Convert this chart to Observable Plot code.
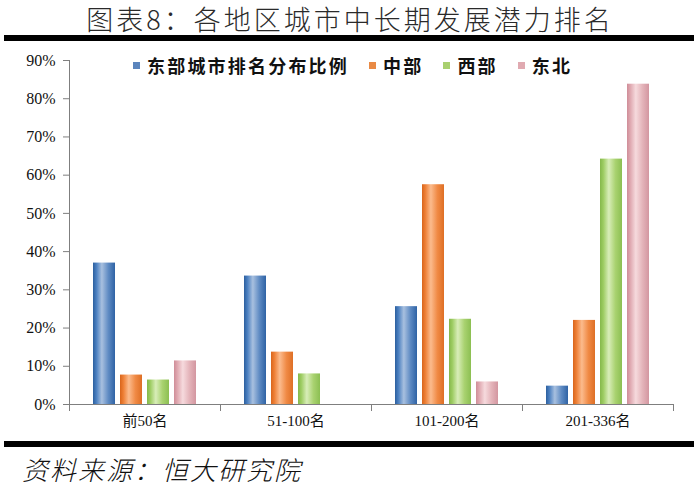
<!DOCTYPE html>
<html><head><meta charset="utf-8">
<script src="https://cdn.jsdelivr.net/npm/d3@7"></script>
<script src="https://cdn.jsdelivr.net/npm/@observablehq/plot@0.6"></script>
<style>
body{margin:0;background:#fff;}
#wrap{position:relative;width:700px;height:486px;overflow:hidden;background:#fff;}
#title{position:absolute;left:0;top:2px;width:700px;height:33px;line-height:33px;text-align:center;
  font-family:"Noto Sans CJK SC","Noto Sans",sans-serif;font-weight:300;font-size:27px;letter-spacing:3px;color:#2a2a2a;}
.rule{position:absolute;left:4px;width:690px;height:6px;background:#000;}
#chart{position:absolute;left:0;top:44px;}
#legend{position:absolute;left:133px;top:52px;display:flex;align-items:center;
  font-family:"Noto Sans CJK SC",sans-serif;font-weight:700;font-size:18px;letter-spacing:2.2px;color:#111;}
#legend .item{display:flex;align-items:center;margin-right:20px;}
#legend .sw{width:7px;height:7px;margin-right:7px;}
#source{position:absolute;left:22px;top:450px;font-family:"Noto Sans CJK SC",sans-serif;font-weight:300;
  font-style:italic;font-size:26px;letter-spacing:2px;color:#111;}
</style></head><body>
<div id="wrap">
  <div id="title"></div>
  <div class="rule" style="top:35px"></div>
  <div id="chart"></div>
  <div id="legend"></div>
  <div class="rule" style="top:441px"></div>
  <div id="source"></div>
</div>
<script>
const titleText = "图表8：各地区城市中长期发展潜力排名";
const sourceText = "资料来源：恒大研究院";
const categories = ["前50名", "51-100名", "101-200名", "201-336名"];
const series = ["东部城市排名分布比例", "中部", "西部", "东北"];
const east = [37.0, 33.6, 25.6, 4.8];
const central = [7.7, 13.7, 57.5, 22.0];
const west = [6.4, 8.0, 22.3, 64.2];
const northeast = [11.4, 0, 5.9, 83.8];
const yTicks = [0, 10, 20, 30, 40, 50, 60, 70, 80, 90];
const swatchColors = ["#5b85bd", "#e98a45", "#a9d06f", "#e0aab1"];
const gradientStops = [
  ["#2c5f9e", "#4a7fc0", "#a8c0df", "#5f8bc3", "#2f63a5"],
  ["#d8651c", "#ee7f35", "#fbbb8d", "#f08a45", "#de6f25"],
  ["#85b84b", "#9dcc62", "#d8edb8", "#a9d270", "#8cbf52"],
  ["#cf8d98", "#dfa8b0", "#f6dadd", "#e4b4ba", "#d396a0"]
];

document.getElementById("title").textContent = titleText;
document.getElementById("source").textContent = sourceText;

const valuesBySeries = [east, central, west, northeast];
const data = [];
series.forEach((s, i) => categories.forEach((c, j) => data.push({category: c, series: s, value: valuesBySeries[i][j]})));

const W = 700, H = 396, mT = 16, mB = 36, mL = 69, mR = 27;
const innerH = H - mT - mB;
const axisColor = "#7f7f7f";
const serif = "'Liberation Serif','Times New Roman','Noto Sans CJK SC',serif";

const chart = Plot.plot({
  width: W, height: H,
  marginTop: mT, marginBottom: mB, marginLeft: mL, marginRight: mR,
  style: {background: "transparent", overflow: "visible", fontFamily: serif},
  fx: {domain: categories, padding: 0},
  x: {domain: series, paddingInner: 0.18, paddingOuter: 0.85, axis: null},
  y: {domain: [0, 90]},
  marks: [
    ...series.map((s, i) => Plot.barY(data.filter(d => d.series === s), {
      fx: "category", x: "series", y: "value", fill: `url(#grad${i})`, insetLeft: 0, insetRight: 0
    })),
    Plot.frame({anchor: "bottom", stroke: axisColor}),
    Plot.frame({anchor: "left", stroke: axisColor, facetAnchor: "left"}),
    Plot.frame({anchor: "left", stroke: axisColor, insetTop: innerH, insetBottom: -6}),
    Plot.frame({anchor: "right", stroke: axisColor, insetTop: innerH, insetBottom: -6, facetAnchor: "right"}),
    Plot.axisY({ticks: yTicks, tickSize: 6, tickPadding: 8, tickFormat: d => d + "%", fontSize: 16,
      fontFamily: serif, stroke: axisColor, fill: "#111", label: null}),
    Plot.axisFx({anchor: "bottom", tickSize: 0, tickPadding: 11, fontSize: 15, fontFamily: serif,
      fill: "#111", label: null})
  ]
});

const defs = d3.select(chart).insert("defs", ":first-child");
gradientStops.forEach((stops, i) => {
  const g = defs.append("linearGradient").attr("id", `grad${i}`).attr("x1", 0).attr("x2", 1).attr("y1", 0).attr("y2", 0);
  [0, 0.15, 0.4, 0.7, 1].forEach((o, k) => g.append("stop").attr("offset", o).attr("stop-color", stops[k]));
});
document.getElementById("chart").appendChild(chart);

const legend = d3.select("#legend");
series.forEach((s, i) => {
  const it = legend.append("div").attr("class", "item");
  it.append("div").attr("class", "sw").style("background", swatchColors[i]);
  it.append("span").text(s);
});
</script>
</body></html>
